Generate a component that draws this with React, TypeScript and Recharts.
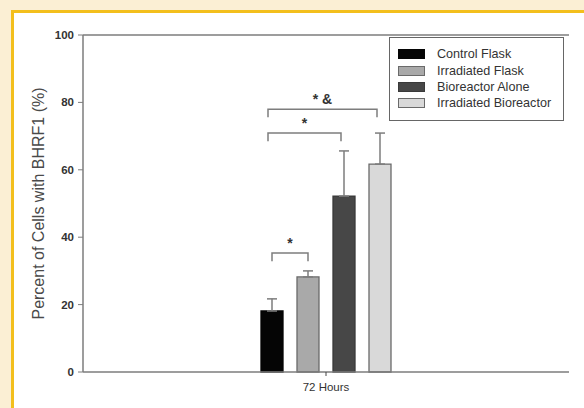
import React from "react";
import {
  BarChart,
  Bar,
  XAxis,
  YAxis,
  ErrorBar,
  Legend,
  ReferenceLine,
  Rectangle,
} from "recharts";

const categories = ["72 Hours"];
const seriesNames = [
  "Control Flask",
  "Irradiated Flask",
  "Bioreactor Alone",
  "Irradiated Bioreactor",
];
const means = [18.1, 28.2, 52.2, 61.7];
const errorsUp = [3.6, 1.8, 13.4, 9.2];
const yTicks = [0, 20, 40, 60, 80, 100];

// significance brackets: bar index from / to, height in %, text
const brackets = [
  { from: 0, to: 1, level: 35.3, text: "*" },
  { from: 0, to: 2, level: 70.9, text: "*" },
  { from: 0, to: 3, level: 78, text: "* &" },
];

const fills = ["#050505", "#a9a9a9", "#474747", "#d9d9d9"];
const strokes = ["#050505", "#6a6a6a", "#3a3a3a", "#6a6a6a"];

const FONT = "'Liberation Sans', Arial, sans-serif";
const AXIS = "#7d7d7d";

const W = 584;
const H = 408;
const margin = { top: 35, right: 15, bottom: 6, left: 20 };
const yAxisWidth = 63;
const xAxisHeight = 30;
const barSize = 22;
const barGap = 14;

const keys = seriesNames.map((_, i) => `s${i}`);
const data = categories.map((name) => {
  const row: Record<string, any> = { name };
  keys.forEach((k, i) => {
    row[k] = means[i];
    row[`${k}err`] = [0, errorsUp[i]];
  });
  return row;
});

// first bar also draws the brackets, using its own pixel scale
const BracketBar = (props: any) => {
  const { x, y, width, height, payload } = props;
  const v = payload[keys[0]];
  const perUnit = height / v;
  const base = y + height;
  const cx = (i: number) => x + width / 2 + i * (width + barGap);
  const py = (val: number) => base - val * perUnit;
  return (
    <g>
      <Rectangle {...props} />
      {brackets.map((b, i) => {
        const x1 = cx(b.from) - (b.to > 1 ? 4 : 0);
        const x2 = cx(b.to) - (b.to > 1 ? 3 : 0);
        const yl = py(b.level);
        const yd = py(b.level - 2.4);
        return (
          <g key={i}>
            <path
              d={`M${x1},${yd}L${x1},${yl}L${x2},${yl}L${x2},${yd}`}
              fill="none"
              stroke={AXIS}
              strokeWidth={1.5}
            />
            <text
              x={(x1 + x2) / 2}
              y={yl - 5}
              textAnchor="middle"
              fill="#333"
              fontSize={14}
              fontWeight="bold"
              fontFamily={FONT}
            >
              {b.text}
            </text>
          </g>
        );
      })}
    </g>
  );
};

const LegendBox = () => (
  <div
    style={{
      position: "absolute",
      left: 389,
      top: 37,
      border: "1.5px solid #666",
      background: "#fff",
      width: 175,
      height: 84,
      boxSizing: "border-box",
      paddingTop: 8,
      fontFamily: FONT,
      fontSize: 12.6,
      color: "#333",
      textAlign: "left",
    }}
  >
    {seriesNames.map((n, i) => (
      <div
        key={n}
        style={{ display: "flex", alignItems: "center", height: 16.4 }}
      >
        <span
          style={{
            display: "inline-block",
            marginLeft: 8,
            width: 25,
            height: 8,
            background: fills[i],
            border: `1px solid ${strokes[i]}`,
            marginRight: 12,
          }}
        />
        <span>{n}</span>
      </div>
    ))}
  </div>
);

export default function App() {
  return (
    <div
      style={{
        position: "absolute",
        left: 0,
        top: 0,
        width: W,
        height: H,
        background: "#fbefd4",
        overflow: "hidden",
      }}
    >
      <div
        style={{
          position: "absolute",
          left: 11,
          top: 10,
          right: 0,
          bottom: 0,
          background: "#fff",
          borderLeft: "3px solid #f3bf1c",
          borderTop: "3px solid #f3bf1c",
        }}
      />
      <div style={{ position: "absolute", left: 0, top: 0 }}>
        <BarChart
          width={W}
          height={H}
          data={data}
          margin={margin}
          barSize={barSize}
          barGap={barGap}
        >
          <XAxis
            dataKey="name"
            height={xAxisHeight}
            tickSize={4}
            tickMargin={7}
            axisLine={{ stroke: AXIS, strokeWidth: 1.5 }}
            tickLine={{ stroke: "#444" }}
            tick={{ fill: "#333", fontSize: 11.5, fontFamily: FONT }}
          />
          <YAxis
            width={yAxisWidth}
            domain={[0, 100]}
            ticks={yTicks}
            tickSize={5}
            tickMargin={4}
            axisLine={{ stroke: AXIS, strokeWidth: 1.5 }}
            tickLine={{ stroke: AXIS }}
            tick={{
              fill: "#333",
              fontSize: 11.5,
              fontWeight: "bold",
              fontFamily: FONT,
            }}
            label={{
              value: "Percent of Cells with BHRF1 (%)",
              angle: -90,
              position: "insideLeft",
              dx: 13,
              style: {
                fill: "#4a4a4a",
                fontSize: 16,
                fontFamily: FONT,
                textAnchor: "middle",
              },
            }}
          />
          <YAxis
            yAxisId="r"
            orientation="right"
            width={0}
            tick={false}
            tickLine={false}
            axisLine={{ stroke: AXIS, strokeWidth: 1.5 }}
          />
          <ReferenceLine y={100} stroke={AXIS} strokeWidth={1.5} />
          {keys.map((k, i) => (
            <Bar
              key={k}
              dataKey={k}
              name={seriesNames[i]}
              fill={fills[i]}
              stroke={strokes[i]}
              strokeWidth={1.3}
              shape={i === 0 ? <BracketBar /> : undefined}
              isAnimationActive={false}
            >
              <ErrorBar
                dataKey={`${k}err`}
                width={5}
                stroke={AXIS}
                strokeWidth={1.5}
                isAnimationActive={false}
              />
            </Bar>
          ))}
          <Legend
            content={<LegendBox />}
            wrapperStyle={{ left: 0, top: 0, width: 0, height: 0 }}
          />
        </BarChart>
      </div>
    </div>
  );
}
